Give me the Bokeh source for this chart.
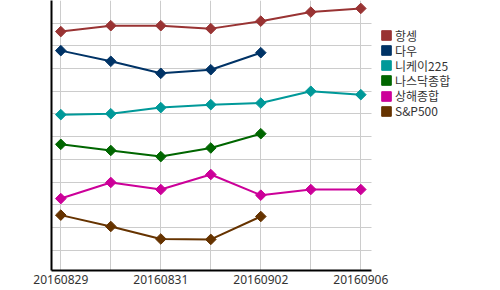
import math
from bokeh.plotting import figure
from bokeh.models import FixedTicker, Legend, LegendItem, Range1d, ColumnDataSource
from bokeh.embed import file_html
from bokeh.resources import INLINE

dates = ["20160829", "20160830", "20160831", "20160901", "20160902", "20160905", "20160906"]
shown_dates = {0: "20160829", 2: "20160831", 4: "20160902", 6: "20160906"}

names = ["항셍", "다우", "니케이225", "나스닥종합", "상해종합", "S&P500"]
colors = ["#993333", "#003366", "#009999", "#006600", "#CC0099", "#663300"]

hangseng = [9.63, 9.89, 9.89, 9.76, 10.09, 10.49, 10.65]
dow = [8.79, 8.32, 7.79, 7.95, 8.70]
nikkei = [5.97, 6.01, 6.28, 6.41, 6.48, 7.00, 6.85]
nasdaq = [4.66, 4.39, 4.12, 4.50, 5.13]
shanghai = [2.27, 2.98, 2.67, 3.33, 2.42, 2.67, 2.67]
sp500 = [1.54, 1.04, 0.49, 0.47, 1.48]

series = [hangseng, dow, nikkei, nasdaq, shanghai, sp500]

X0, X1 = -0.186, 6.214
p = figure(width=500, height=290, output_backend="svg", toolbar_location=None,
           x_range=Range1d(X0, 8.794), y_range=Range1d(-0.9, 11.0),
           min_border_left=51, min_border_right=0, min_border_top=0, min_border_bottom=20)
p.outline_line_color = None
p.background_fill_color = "white"

for vals, c in zip(series, colors):
    src = ColumnDataSource(dict(x=list(range(len(vals))), y=vals))
    p.line("x", "y", source=src, line_color=c, line_width=2)
    p.scatter("x", "y", source=src, marker="square", angle=math.pi / 4, size=7.5,
              fill_color=c, line_color=c)

# legend: one entry per row, rows 15px apart
for i, (n, c) in enumerate(zip(names, colors)):
    r = p.quad(left=[-50], right=[-49], top=[-50], bottom=[-51], fill_color=c, line_color=c)
    lg = Legend(items=[LegendItem(label=n, renderers=[r])],
                location=(329, 226.5 - 15.15 * i), orientation="vertical",
                glyph_width=12, glyph_height=12, label_height=12, spacing=0,
                label_standoff=3, padding=0, margin=0,
                border_line_color=None, background_fill_alpha=0,
                label_text_font="Noto Sans CJK KR", label_text_font_size="12px",
                label_text_color="#333333")
    p.add_layout(lg)

p.xaxis.ticker = FixedTicker(ticks=list(shown_dates.keys()))
p.xaxis.major_label_overrides = shown_dates
p.xaxis.major_label_text_font = "Noto Sans"
p.xaxis.major_label_text_font_size = "12px"
p.xaxis.major_label_text_color = "#333333"
p.xaxis.major_tick_line_color = None
p.xaxis.minor_tick_line_color = None
p.xaxis.major_label_standoff = -2
p.xaxis.axis_line_color = "black"
p.xaxis.axis_line_width = 2
p.xaxis.bounds = (X0, X1)

p.yaxis.ticker = FixedTicker(ticks=list(range(12)))
p.yaxis.major_label_text_alpha = 0
p.yaxis.major_label_text_font_size = "1px"
p.yaxis.major_tick_line_color = None
p.yaxis.minor_tick_line_color = None
p.yaxis.axis_line_color = "black"
p.yaxis.axis_line_width = 2

p.xgrid.ticker = FixedTicker(ticks=list(range(7)))
p.xgrid.grid_line_color = "#cccccc"
p.ygrid.grid_line_color = "#cccccc"
p.ygrid.cross_bounds = (X0, X1)

open("out.html", "w").write(file_html(p, INLINE))
